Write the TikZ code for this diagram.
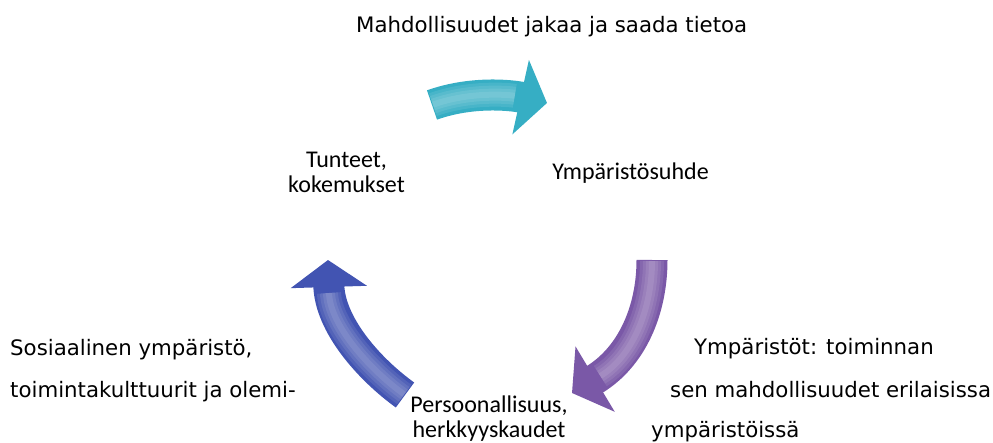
\documentclass[tikz,border=0pt]{standalone}
\usepackage{fontspec}
\usetikzlibrary{arrows.meta}
\newfontfamily\lblfont{Carlito}
\newfontfamily\sidefont{DejaVu Sans}
\definecolor{cyanarr}{HTML}{36AEC4}
\definecolor{purparr}{HTML}{7A58A7}
\definecolor{bluearr}{HTML}{4254B2}

\begin{document}
\begin{tikzpicture}[x=1pt,y=-1pt,
  lbl/.style={font=\lblfont\fontsize{24}{25}\selectfont,align=center,inner sep=0pt,anchor=base},
  side/.style={font=\sidefont\fontsize{21.3}{42}\selectfont,align=left,inner sep=0pt,anchor=base west},
  gloss/.style={postaction={draw,-,white,opacity=.09,line width=#1,shorten >=33pt,shorten <=1pt}},
  flow/.style={line width=31pt,-{Triangle[length=27pt,width=75pt]},
    gloss=24pt,gloss=18pt,gloss=12pt,gloss=6pt}
]
\useasboundingbox (0,0) rectangle (993,443);

% the three stages
\node[lbl] (feel) at (346.5,193) {Tunteet,\\kokemukset};
\node[lbl] (envrel) at (630.5,180) {Ympäristösuhde};
\node[lbl] (pers) at (489,437) {Persoonallisuus,\\herkkyyskaudet};

% texts round the cycle
\node[side] (share) at (356,33) {Mahdollisuudet jakaa ja saada tietoa};
\node[side] (social) at (10,397) {Sosiaalinen ympäristö,\\toimintakulttuurit ja olemi-};
\node[side] (envs1) at (694,355) {Ympäristöt: toiminnan};
\node[side] (envs2) at (670,397) {sen mahdollisuudet erilaisissa};
\node[side] (envs3) at (651,437) {ympäristöissä};

% arrows
\coordinate (cyan-s) at (432,105);
\coordinate (cyan-e) at (547,103);
\coordinate (purp-s) at (652,260);
\coordinate (purp-e) at (572,393);
\coordinate (blue-s) at (405,395);
\coordinate (blue-e) at (328,260);

\draw[flow,cyanarr] (cyan-s) .. controls +(39,-14) and +(-36,-8) .. (cyan-e);
\draw[flow,purparr] (purp-s) .. controls +(0,50) and +(60,-36) .. (purp-e);
\draw[flow,bluearr] (blue-s) .. controls +(-36,-26) and +(2,65) .. (blue-e);
\end{tikzpicture}
\end{document}
